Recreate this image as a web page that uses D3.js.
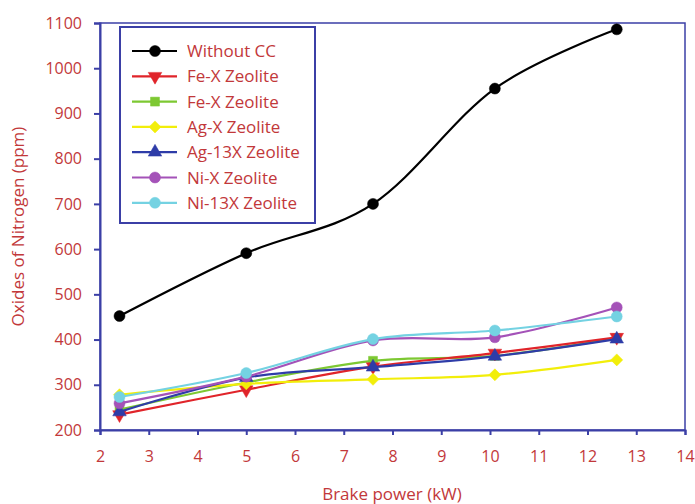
<!DOCTYPE html>
<html lang="en">
<head>
    <meta charset="UTF-8">
    <title></title>
    <style type="text/css">
        html, body { padding:0; margin:0; background:#fff; }
        text { font-family: "Open Sans", "Noto Sans", sans-serif; }
    </style>
</head>
<body>
<script src="https://d3js.org/d3.v7.min.js"></script>
<script>
    var power = [2.4, 5, 7.6, 10.1, 12.6];
    var seriesNames = ['Without CC', 'Fe-X Zeolite', 'Fe-X Zeolite', 'Ag-X Zeolite', 'Ag-13X Zeolite', 'Ni-X Zeolite', 'Ni-13X Zeolite'];
    var withoutCC = [452, 591, 700, 955, 1086];
    var feXRed = [234, 289, 340, 370, 405];
    var feXGreen = [245, 305, 353, 364, 403];
    var agX = [278, 302, 312, 322, 355];
    var ag13X = [240, 316, 339, 363, 401];
    var niX = [259, 318, 398, 405, 471];
    var ni13X = [273, 326, 401, 420, 451];
    var xTicks = [2, 3, 4, 5, 6, 7, 8, 9, 10, 11, 12, 13, 14];
    var yTicks = [200, 300, 400, 500, 600, 700, 800, 900, 1000, 1100];

    var chart = {};

    chart.options = {
        width: 695,
        height: 504,
        left: 100, right: 685, top: 23, bottom: 430,
        axisColor: '#3b3fa6',
        textColor: '#c2383a',
        colors: ['#000000', '#e0242a', '#7dc832', '#f2ee0a', '#2e3ca8', '#a452b8', '#74d2e2'],
        symbols: ['circle', 'down', 'square', 'diamond', 'triangle', 'circle', 'circle']
    };

    chart.series = [withoutCC, feXRed, feXGreen, agX, ag13X, niX, ni13X];

    chart.init = function() {
        var o = this.options;
        this.svg = d3.select('body').append('svg')
          .attr('width', o.width)
          .attr('height', o.height);

        this.x = d3.scaleLinear().domain([2, 14]).range([o.left, o.right]);
        this.y = d3.scaleLinear().domain([200, 1100]).range([o.bottom, o.top]);

        this.renderAxes();
        this.renderLines();
        this.renderLegend();
    };

    // diamond is drawn as a square turned 45deg, like Excel's marker
    chart.marker = function(sel, type, color) {
        var shapes = {
            circle: d3.symbolCircle, square: d3.symbolSquare, diamond: d3.symbolSquare,
            triangle: d3.symbolTriangle, down: d3.symbolTriangle
        };
        var areas = { circle: 95, square: 80, diamond: 72, triangle: 80, down: 80 };
        var rot = { down: 'rotate(180)', diamond: 'rotate(45)' };
        sel.append('path')
          .attr('d', d3.symbol().type(shapes[type]).size(areas[type]))
          .attr('transform', rot[type] || null)
          .attr('fill', color)
          .attr('stroke', color)
          .attr('stroke-width', 0.5);
    };

    chart.renderAxes = function() {
        var o = this.options, svg = this.svg;

        svg.append('rect')
          .attr('x', o.left).attr('y', o.top)
          .attr('width', o.right - o.left).attr('height', o.bottom - o.top)
          .attr('fill', 'none').attr('stroke', o.axisColor).attr('stroke-width', 1.5);

        var xAxis = svg.append('g')
          .attr('transform', 'translate(0,' + o.bottom + ')')
          .call(d3.axisBottom(this.x).tickValues(xTicks).tickFormat(d3.format('d')).tickSize(5).tickPadding(16));
        var yAxis = svg.append('g')
          .attr('transform', 'translate(' + o.left + ',0)')
          .call(d3.axisLeft(this.y).tickValues(yTicks).tickFormat(d3.format('d')).tickSize(6).tickPadding(12));

        [xAxis, yAxis].forEach(function(a) {
            a.select('.domain').attr('stroke', o.axisColor).attr('stroke-width', 2);
            a.selectAll('.tick line').attr('stroke', o.axisColor).attr('stroke-width', 2);
            a.selectAll('.tick text').attr('fill', o.textColor)
              .style('font-size', '16px').style('font-family', '"Open Sans", sans-serif');
        });

        svg.append('text')
          .attr('x', 392).attr('y', 500)
          .attr('text-anchor', 'middle')
          .attr('fill', o.textColor)
          .style('font-size', '17px')
          .text('Brake power (kW)');

        svg.append('text')
          .attr('transform', 'translate(24,' + ((o.top + o.bottom) / 2) + ') rotate(-90)')
          .attr('text-anchor', 'middle')
          .attr('fill', o.textColor)
          .style('font-size', '17px')
          .text('Oxides of Nitrogen (ppm)');
    };

    chart.renderLines = function() {
        var self = this, o = this.options;
        var line = d3.line()
          .x(function(d, i) { return self.x(power[i]); })
          .y(function(d) { return self.y(d); })
          .curve(d3.curveCardinal.tension(0));

        var order = [2, 1, 3, 4, 5, 6, 0];
        order.forEach(function(s) {
            var vals = chart.series[s];
            self.svg.append('path')
              .attr('d', line(vals))
              .attr('fill', 'none')
              .attr('stroke', o.colors[s])
              .attr('stroke-width', 2.2);
            vals.forEach(function(v, i) {
                var g = self.svg.append('g')
                  .attr('transform', 'translate(' + self.x(power[i]) + ',' + self.y(v) + ')');
                self.marker(g, o.symbols[s], o.colors[s]);
            });
        });
    };

    chart.renderLegend = function() {
        var o = this.options, svg = this.svg, self = this;
        svg.append('rect')
          .attr('x', 120).attr('y', 27)
          .attr('width', 195).attr('height', 196)
          .attr('fill', '#fff')
          .attr('stroke', o.axisColor).attr('stroke-width', 2);

        seriesNames.forEach(function(name, i) {
            var cy = 51 + i * 25.3;
            svg.append('line')
              .attr('x1', 132).attr('x2', 177)
              .attr('y1', cy).attr('y2', cy)
              .attr('stroke', o.colors[i]).attr('stroke-width', 2.2);
            var g = svg.append('g').attr('transform', 'translate(155,' + cy + ')');
            self.marker(g, o.symbols[i], o.colors[i]);
            svg.append('text')
              .attr('x', 187).attr('y', cy + 6)
              .attr('fill', o.textColor)
              .style('font-size', '17px')
              .text(name);
        });
    };

    chart.init();
</script>
</body>
</html>
